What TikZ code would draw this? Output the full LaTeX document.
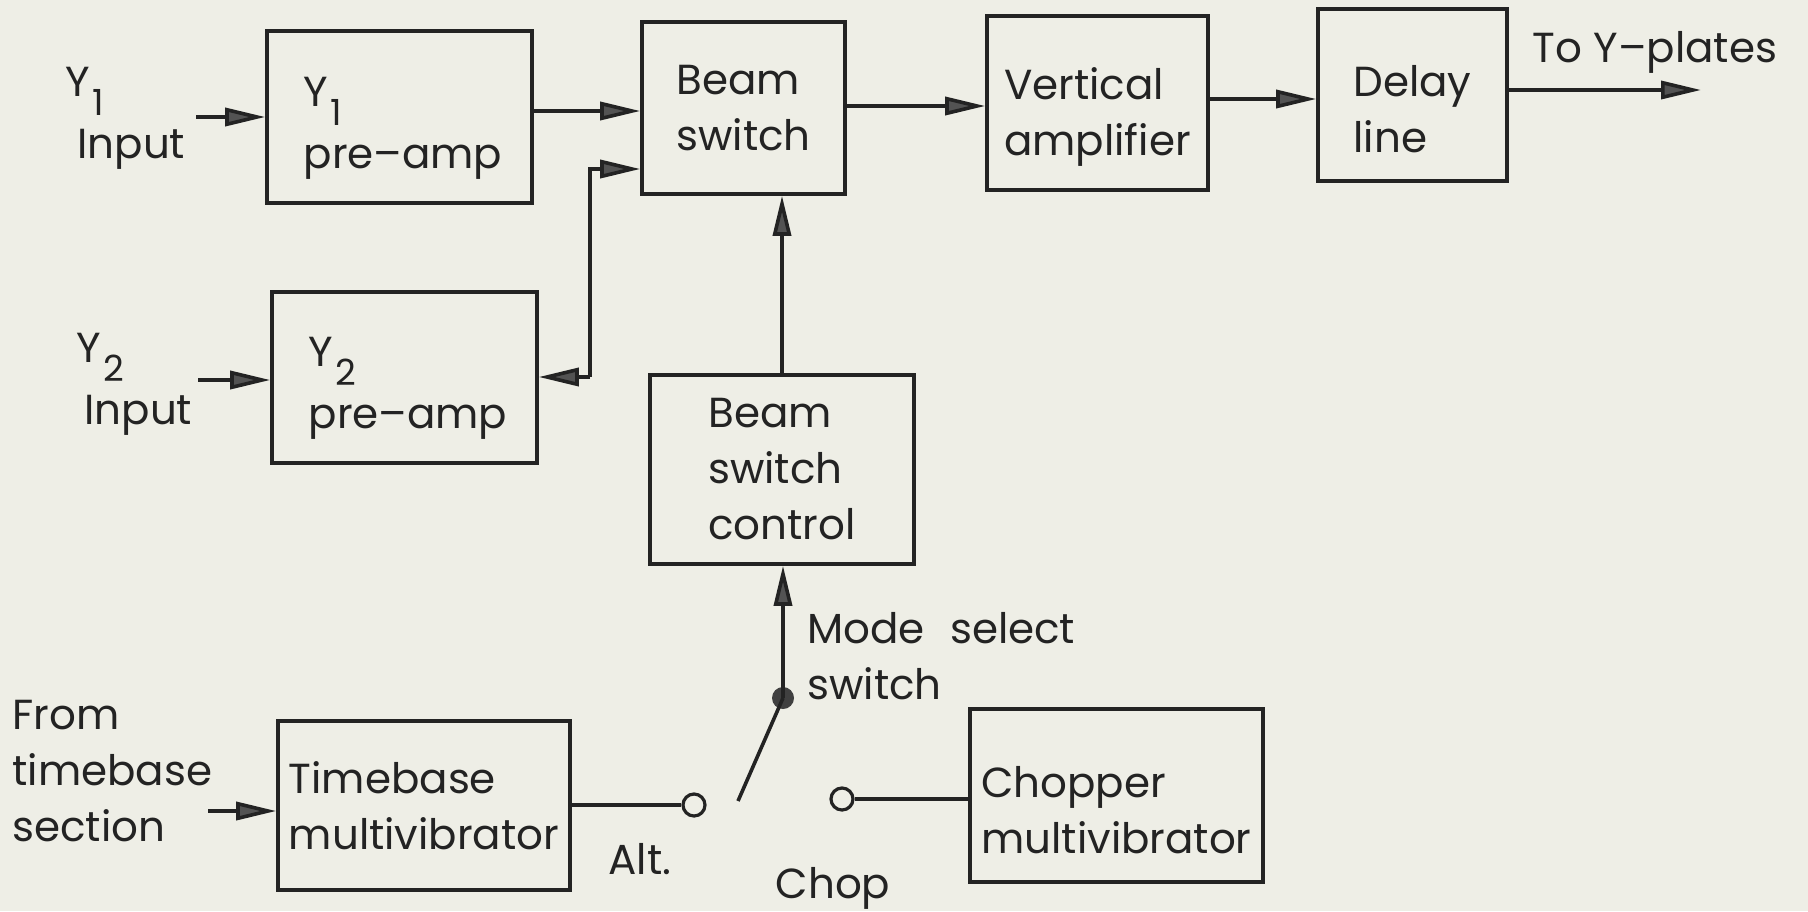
\documentclass[tikz,border=0pt]{standalone}
\usepackage{fontspec}
\setmainfont{Poppins}
\usetikzlibrary{arrows.meta}
\definecolor{paper}{RGB}{238,238,230}
\definecolor{ink}{RGB}{35,35,35}
\newcommand{\ysub}[1]{Y\kern0.05em\raisebox{-0.45em}{\fontsize{18}{18}\selectfont #1}}
\begin{document}
\begin{tikzpicture}[x=0.5pt,y=-0.5pt,
  every node/.style={font=\fontsize{21}{28}\selectfont, text=ink},
  blk/.style={draw=ink, line width=1.8pt, align=left, inner sep=0pt},
  txt/.style={align=left, inner sep=0pt},
  lbl/.style={align=left, inner sep=0pt, anchor=west},
  arr/.style={draw=ink, line width=1.8pt, -{Triangle[length=20pt,width=9pt,fill=gray!65!black]}},
  wire/.style={draw=ink, line width=1.8pt},
  contact/.style={circle, draw=ink, line width=1.6pt, minimum size=11pt, inner sep=0pt},
  pivot/.style={circle, fill=gray!50!black, minimum size=11pt, inner sep=0pt}]
\fill[paper] (0,0) rectangle (1808,911);
\useasboundingbox (0,0) rectangle (1808,911);

% blocks
\node[blk, minimum width=132.5pt, minimum height=86pt] (y1) at (399.5,117) {};
\node[txt, font=\fontsize{21}{31}\selectfont] (y1t) at (403,128) {\ysub{1}\\pre–amp};
\node[blk, minimum width=132.5pt, minimum height=85.5pt] (y2) at (404.5,377.5) {};
\node[txt, font=\fontsize{21}{31}\selectfont] (y2t) at (408,388) {\ysub{2}\\pre–amp};
\node[blk, minimum width=101.5pt, minimum height=86pt] (bs) at (743.5,108) {Beam\\switch};
\node[blk, minimum width=110.5pt, minimum height=87pt] (va) at (1097.5,103) {};
\node[txt] (vat) at (1097.5,117) {Vertical\\amplifier};
\node[blk, minimum width=94.5pt, minimum height=86pt] (dl) at (1412.5,95) {};
\node[txt] (dlt) at (1412.5,109) {Delay\\line};
\node[blk, minimum width=132pt, minimum height=94.5pt] (bsc) at (782,469.5) {Beam\\switch\\control};
\node[blk, minimum width=146pt, minimum height=84.5pt] (tb) at (424,805.5) {Timebase\\multivibrator};
\node[blk, minimum width=146.5pt, minimum height=86.5pt] (cm) at (1116.5,795.5) {};
\node[txt] (cmt) at (1116.5,810) {Chopper\\multivibrator};

% outside labels
\node[lbl, font=\fontsize{21}{31}\selectfont] (l1) at (65,118) {\ysub{1}\\\hspace*{6pt}Input};
\node[lbl, font=\fontsize{21}{31}\selectfont] (l2) at (76,384) {\ysub{2}\\\hspace*{4pt}Input};
\node[lbl] (lfrom) at (12,771) {From\\timebase\\section};
\node[anchor=center, inner sep=0pt] (lout) at (1655,52) {To Y–plates};
\node[lbl] (lmode) at (807,656) {Mode\hspace{0.6em}select\\switch};
\node[anchor=center, inner sep=0pt] (lalt) at (640,859) {Alt.};
\node[anchor=center, inner sep=0pt] (lchop) at (833,888) {Chop};

% inputs
\coordinate (in1) at (196,117);
\coordinate (in2) at (198,380);
\coordinate (in3) at (208,811);
\draw[arr] (in1) -- (in1 -| y1.west);
\draw[arr] (in2) -- (in2 -| y2.west);
\draw[arr] (in3) -- (in3 -| tb.west);

% top chain
\draw[arr] (y1.east |- 0,111) -- (bs.west |- 0,111);
\draw[arr] (bs.east |- 0,106) -- (va.west |- 0,106);
\draw[arr] (va.east |- 0,99) -- (dl.west |- 0,99);
\coordinate (out) at (1701,90);
\draw[arr] (dl.east |- out) -- (out);

% Y2 path
\coordinate (j) at (590,377);
\draw[arr] (j) -- (y2.east |- j);
\draw[arr] (j) |- (bs.west |- 0,169);

% beam switch control
\draw[arr] (bsc.north) -- (bsc.north |- bs.south);

% mode select switch
\node[pivot] (pv) at (783,698) {};
\draw[arr] (pv.center) -- (pv.center |- bsc.south);
\coordinate (blade) at (738,801);
\draw[wire] (pv.center) -- (blade);
\node[contact] (alt) at (694,805) {};
\node[contact] (chop) at (842,799) {};
\draw[wire] (tb.east |- alt) -- (alt);
\draw[wire] (chop) -- (cm.west |- chop);
\end{tikzpicture}
\end{document}
